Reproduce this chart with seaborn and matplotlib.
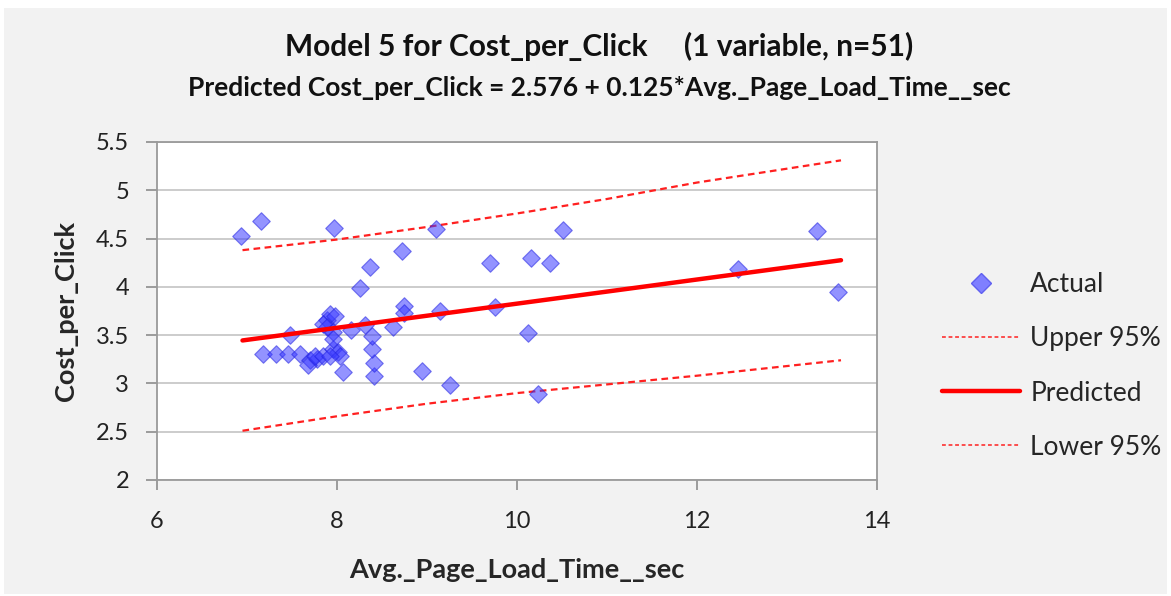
import matplotlib
matplotlib.use("Agg")
import matplotlib.pyplot as plt
from matplotlib.patches import Rectangle
from matplotlib.lines import Line2D
import seaborn as sns
import pandas as pd

# Data
page_load_time = [6.93, 7.15, 7.97, 9.10, 10.51, 13.33, 8.72, 8.37, 8.25, 9.70,
                  10.16, 10.37, 12.46, 13.57, 8.74, 8.74, 9.14, 9.76, 10.12, 8.62,
                  10.23, 9.26, 8.94, 8.07, 8.41, 8.41, 8.39, 8.39, 7.48, 7.18,
                  7.32, 7.46, 7.59, 7.70, 7.78, 7.68, 7.76, 7.84, 7.96, 8.01,
                  8.03, 7.92, 7.89, 7.92, 7.98, 7.84, 7.89, 7.96, 7.96, 8.16,
                  8.31]
cost_per_click = [4.53, 4.68, 4.61, 4.60, 4.59, 4.58, 4.37, 4.21, 3.99, 4.25,
                  4.30, 4.25, 4.18, 3.95, 3.80, 3.73, 3.75, 3.79, 3.52, 3.58,
                  2.89, 2.98, 3.13, 3.12, 3.08, 3.21, 3.36, 3.49, 3.50, 3.30,
                  3.30, 3.30, 3.30, 3.24, 3.25, 3.19, 3.28, 3.28, 3.36, 3.33,
                  3.28, 3.28, 3.66, 3.72, 3.70, 3.62, 3.58, 3.53, 3.46, 3.55,
                  3.61]

pred_x = [6.95, 13.6]
pred_y = [3.445, 4.276]

band_x = [6.95, 8.0, 9.0, 10.0, 11.0, 12.0, 13.6]
upper_95 = [4.38, 4.49, 4.62, 4.76, 4.91, 5.08, 5.31]
lower_95 = [2.51, 2.66, 2.79, 2.90, 2.99, 3.08, 3.24]

x_ticks = [6, 8, 10, 12, 14]
y_ticks = [2, 2.5, 3, 3.5, 4, 4.5, 5, 5.5]
y_tick_labels = ["2", "2.5", "3", "3.5", "4", "4.5", "5", "5.5"]

title = "Model 5 for Cost_per_Click     (1 variable, n=51)"
subtitle = "Predicted Cost_per_Click = 2.576 + 0.125*Avg._Page_Load_Time__sec"
x_label = "Avg._Page_Load_Time__sec"
y_label = "Cost_per_Click"

sns.set_theme(style="white")
plt.rcParams['font.family'] = ['Lato', 'DejaVu Sans']

fig = plt.figure(figsize=(11.71, 5.96), dpi=100)
fig.patch.set_facecolor("white")
fig.patches.append(Rectangle((0.003, 0.004), 0.994, 0.982, transform=fig.transFigure,
                             facecolor="#f2f2f2", edgecolor="none", zorder=-10))

ax = fig.add_axes([157/1171, 1 - 480/596, 720/1171, 338/596])
ax.set_facecolor("white")

df = pd.DataFrame({"x": page_load_time, "y": cost_per_click})
band = pd.DataFrame({"x": band_x, "upper": upper_95, "lower": lower_95})
pred = pd.DataFrame({"x": pred_x, "y": pred_y})

ax.yaxis.grid(True, color="#c8c8c8", linewidth=1.3)
ax.set_axisbelow(True)

sns.lineplot(data=band, x="x", y="upper", ax=ax, color="#ff2020", linewidth=1.6,
             linestyle=(0, (3, 2)), zorder=2)
sns.lineplot(data=band, x="x", y="lower", ax=ax, color="#ff2020", linewidth=1.6,
             linestyle=(0, (3, 2)), zorder=2)
sns.scatterplot(data=df, x="x", y="y", ax=ax, marker="D", s=80, color="#3b3bff",
                alpha=0.55, edgecolor="#2020e0", linewidth=0.8, zorder=3)
sns.lineplot(data=pred, x="x", y="y", ax=ax, color="#ff0000", linewidth=3.2, zorder=4)

ax.set_xlim(6, 14)
ax.set_ylim(2, 5.5)
ax.set_xticks(x_ticks)
ax.set_xticklabels([str(t) for t in x_ticks])
ax.set_yticks(y_ticks)
ax.set_yticklabels(y_tick_labels)
ax.tick_params(axis="both", labelsize=17, colors="#222222", width=1.2,
               direction="out", bottom=True, left=True)
ax.tick_params(axis="x", length=7, pad=15)
ax.tick_params(axis="y", length=8, pad=12)
ax.tick_params(axis="both", color="#8c8c8c")
for s in ax.spines.values():
    s.set_color("#9a9a9a")
    s.set_linewidth(1.3)

ax.set_xlabel(x_label, fontsize=19.5, fontweight="bold", labelpad=19)
ax.set_ylabel(y_label, fontsize=19.5, fontweight="bold", labelpad=13)

fig.text(0.512, 1 - 46/596, title, ha="center", va="center", fontsize=21.5,
         fontweight="bold", color="#111111")
fig.text(0.512, 1 - 88/596, subtitle, ha="center", va="center", fontsize=19,
         fontweight="bold", color="#111111")

handles = [
    Line2D([], [], marker="D", linestyle="none", markersize=10, markerfacecolor="#7f7fff",
           markeredgecolor="#6060f0"),
    Line2D([], [], color="#ff2020", linewidth=1.1, linestyle=(0, (2.5, 1.8))),
    Line2D([], [], color="#ff0000", linewidth=3.2),
    Line2D([], [], color="#ff2020", linewidth=1.1, linestyle=(0, (2.5, 1.8))),
]
labels = ["Actual", "Upper 95%", "Predicted", "Lower 95%"]
leg = fig.legend(handles, labels, loc="center left", bbox_to_anchor=(918/1171, 1 - 366/596),
                 frameon=False, fontsize=19, handlelength=2.95, labelspacing=1.1,
                 handletextpad=0.4)

fig.savefig("out.png", dpi=100, facecolor=fig.get_facecolor())
